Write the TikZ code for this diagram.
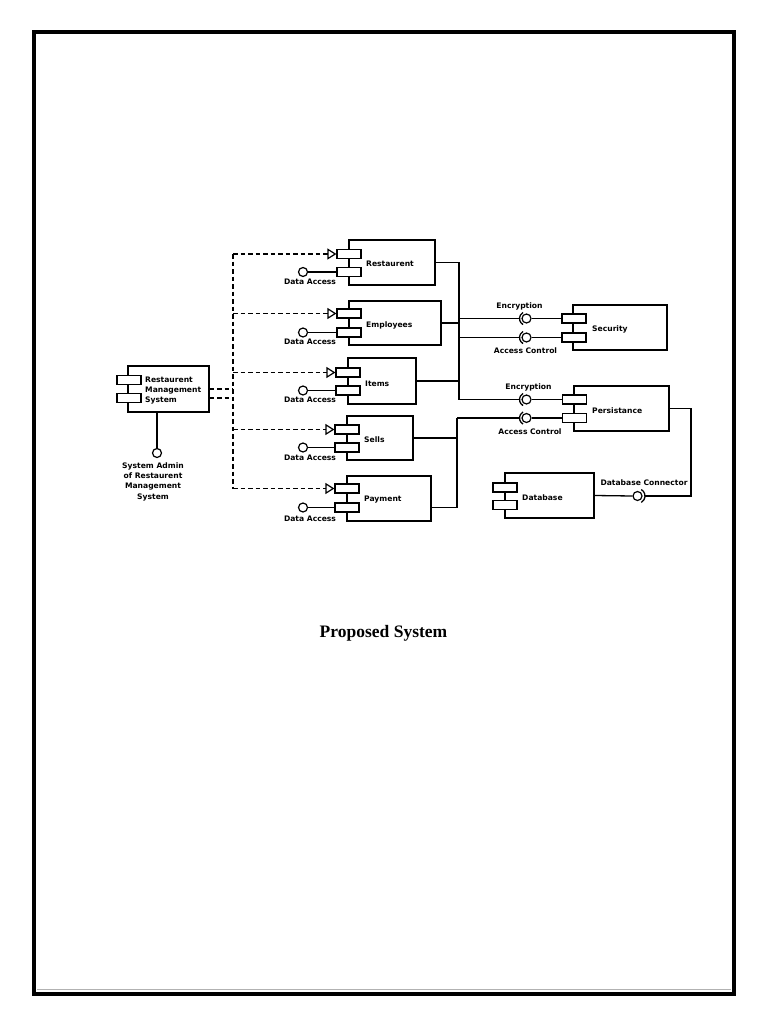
\documentclass[tikz,border=0pt]{standalone}
\usepackage{fontspec}
\setmainfont{Liberation Serif}
\setsansfont{DejaVu Sans}
\usetikzlibrary{arrows.meta}
\begin{document}
\begin{tikzpicture}[x=1pt,y=-1pt,
  comp/.style={draw, line width=1.3pt, fill=white, inner sep=0pt},
  port/.style={draw, line width=1.2pt, fill=white, minimum width=24pt, minimum height=9pt, inner sep=0pt},
  lbl/.style={font=\sffamily\bfseries\fontsize{7.6}{10}\selectfont, inner sep=0pt},
  wire/.style={line width=1.3pt},
  dashline/.style={line width=1.2pt, dash pattern=on 4.5pt off 3pt},
  dep/.style={line width=1.2pt, dash pattern=on 4.5pt off 3pt, -{Triangle[open,length=9pt,width=11pt,line width=1.2pt]}},
  ball/.style={circle, draw, line width=1.2pt, fill=white, minimum size=9pt, inner sep=0pt},
]
\useasboundingbox (0,0) rectangle (768,1024);
\fill[white] (0,0) rectangle (768,1024);
% page frame
\draw[line width=4pt] (34,32.5) rectangle (734,993.5);
\draw[gray!60, line width=0.6pt] (37,989) -- (731,989);

% helper coordinates
\coordinate (busA) at (459,0);
\coordinate (busB) at (457,0);
\coordinate (dv) at (233,0);

% ---------- components ----------
\node[comp, minimum width=86pt, minimum height=45pt] (rest) at (392,262.5) {};
\node[port] (restA) at (349,254) {};
\node[port] (restB) at (349,272) {};
\node[lbl, anchor=west] (restT) at (366,263.5) {Restaurent};

\node[comp, minimum width=92pt, minimum height=44pt] (emp) at (395,323) {};
\node[port] (empA) at (349,313.5) {};
\node[port] (empB) at (349,332.5) {};
\node[lbl, anchor=west] (empT) at (366,325) {Employees};

\node[comp, minimum width=68pt, minimum height=46pt] (items) at (382,381) {};
\node[port] (itemsA) at (348,372.5) {};
\node[port] (itemsB) at (348,390.5) {};
\node[lbl, anchor=west] (itemsT) at (365,384) {Items};

\node[comp, minimum width=66pt, minimum height=44pt] (sells) at (380,438) {};
\node[port] (sellsA) at (347,429.5) {};
\node[port] (sellsB) at (347,447.5) {};
\node[lbl, anchor=west] (sellsT) at (364,440) {Sells};

\node[comp, minimum width=84pt, minimum height=45pt] (pay) at (389,498.5) {};
\node[port] (payA) at (347,488.5) {};
\node[port] (payB) at (347,507.5) {};
\node[lbl, anchor=west] (payT) at (364,500) {Payment};

\node[comp, minimum width=81pt, minimum height=46pt] (rms) at (168.5,389) {};
\node[port] (rmsA) at (129,380) {};
\node[port] (rmsB) at (129,398) {};
\node[lbl, anchor=west, align=left] (rmsT) at (145,391) {Restaurent\\Management\\System};

\node[comp, minimum width=94pt, minimum height=45pt] (sec) at (620,327.5) {};
\node[port] (secA) at (574,318.5) {};
\node[port] (secB) at (574,337.5) {};
\node[lbl, anchor=west] (secT) at (592,329) {Security};

\node[comp, minimum width=95pt, minimum height=45pt] (per) at (621.5,408.5) {};
\node[port] (perA) at (574.5,399.5) {};
\node[port] (perB) at (574.5,418) {};
\node[lbl, anchor=west] (perT) at (592,411) {Persistance};

\node[comp, minimum width=89pt, minimum height=45pt] (db) at (549.5,495.5) {};
\node[port] (dbA) at (505,487.5) {};
\node[port] (dbB) at (505,505) {};
\node[lbl, anchor=west] (dbT) at (522,498) {Database};

% ---------- dependencies (dashed) ----------
\draw[dashline] (rms.east) -- (rms.east -| dv);
\draw[dashline] (rms.east |- rmsB) -- (rmsB -| dv);
\draw[dashline] (dv |- restA) -- (dv |- payA);
\draw[dep] (dv |- restA) -- (restA.west);
\draw[dep] (dv |- empA) -- (empA.west);
\draw[dep] (dv |- itemsA) -- (itemsA.west);
\draw[dep] (dv |- sellsA) -- (sellsA.west);
\draw[dep] (dv |- payA) -- (payA.west);

% ---------- data access lollipops ----------
\node[ball] (restD) at (303,272) {};
\node[ball] (empD) at (303,332.5) {};
\node[ball] (itemsD) at (303,390.5) {};
\node[ball] (sellsD) at (303,447.5) {};
\node[ball] (payD) at (303,507.5) {};
\draw[wire] (restD) -- (restB.west);
\draw[wire] (empD) -- (empB.west);
\draw[wire] (itemsD) -- (itemsB.west);
\draw[wire] (sellsD) -- (sellsB.west);
\draw[wire] (payD) -- (payB.west);
\node[lbl] (restDl) at (310,282) {Data Access};
\node[lbl] (empDl) at (310,342) {Data Access};
\node[lbl] (itemsDl) at (310,399.5) {Data Access};
\node[lbl] (sellsDl) at (310,458) {Data Access};
\node[lbl] (payDl) at (310,519) {Data Access};

% ---------- system admin lollipop ----------
\node[ball] (admin) at (157,453) {};
\draw[wire] (rms.south -| admin) -- (admin);
\node[lbl, align=center, font=\sffamily\bfseries\fontsize{7.6}{10.3}\selectfont] (adminT) at (153,481.5) {System Admin\\of Restaurent\\Management\\System};

% ---------- bus ----------
\draw[wire] (rest.east) -| (busA |- perA);
\draw[wire] (emp.east) -- (emp.east -| busA);
\draw[wire] (items.east) -- (items.east -| busA);
\draw[wire] (sells.east) -- (sells.east -| busB);
\draw[wire] (pay.east |- payB) -| (busB |- perB);

% ---------- assembly connectors ----------
\node[ball] (secEb) at (526.5,318.5) {};
\node[ball] (secAb) at (526.5,337.5) {};
\node[ball] (perEb) at (526.5,399.5) {};
\node[ball] (perAb) at (526.5,418) {};
\foreach \b in {secEb,secAb,perEb,perAb}{
  \draw[wire] ([shift={(120:7)}]\b.center) arc (120:240:7);
}
\draw[wire] (busA |- secEb) -- ([xshift=-7pt]secEb.center);
\draw[wire] (secEb.east) -- (secA.west);
\draw[wire] (busA |- secAb) -- ([xshift=-7pt]secAb.center);
\draw[wire] (secAb.east) -- (secB.west);
\draw[wire] (busA |- perEb) -- ([xshift=-7pt]perEb.center);
\draw[wire] (perEb.east) -- (perA.west);
\draw[wire] (busB |- perAb) -- ([xshift=-7pt]perAb.center);
\draw[wire] (perAb.east) -- (perB.west);
\node[lbl] (secEl) at (519.5,306.5) {Encryption};
\node[lbl] (secAl) at (525.5,351) {Access Control};
\node[lbl] (perEl) at (528.5,387) {Encryption};
\node[lbl] (perAl) at (530,432) {Access Control};

% ---------- database connector ----------
\node[ball] (dbb) at (637.5,496) {};
\draw[wire] ([shift={(-60:7.5)}]dbb.center) arc (-60:60:7.5);
\draw[wire] (db.east) -- (dbb.west);
\draw[wire] ([xshift=7.5pt]dbb.center) -- (691,496) |- (per.east);
\node[lbl] (dbl) at (644,483) {Database Connector};

% ---------- caption ----------
\node[font=\bfseries\fontsize{17.5}{20}\selectfont, inner sep=0pt] (cap) at (383.5,633) {Proposed System};
\end{tikzpicture}
\end{document}
